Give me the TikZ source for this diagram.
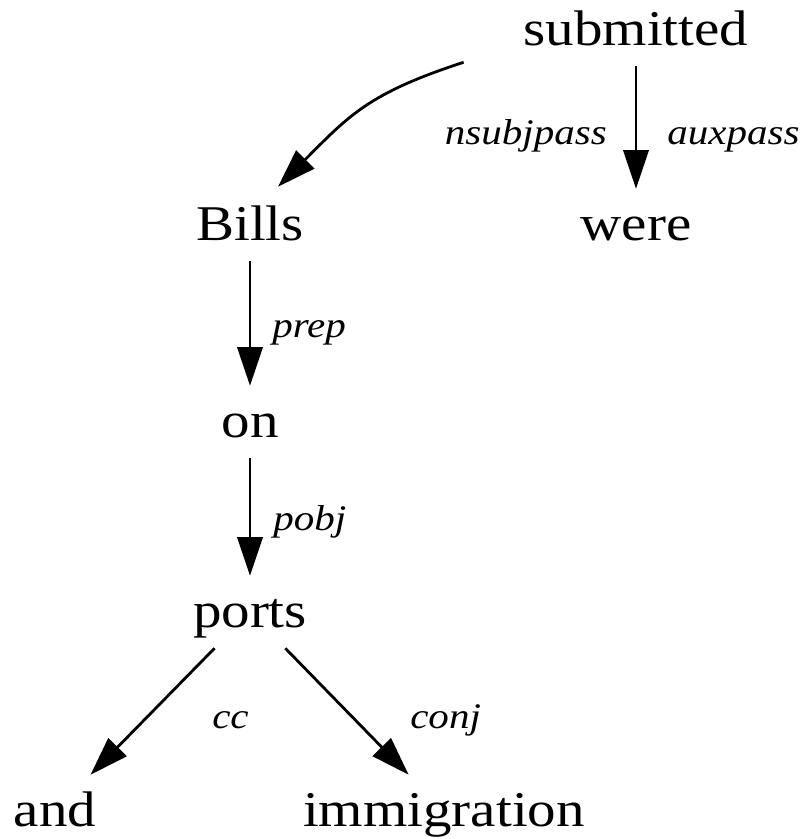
\documentclass[tikz,border=0pt]{standalone}
\usepackage{fontspec}
\setmainfont{Liberation Serif}[FakeStretch=1.14]
\usetikzlibrary{arrows.meta,calc}

\begin{document}
\begin{tikzpicture}[x=0.75pt,y=-0.75pt,
  word/.style={font=\fontsize{37.5}{40}\selectfont, text height=27pt,
    text depth=4.5pt, inner xsep=2pt, inner ysep=11.25pt, anchor=base},
  rel/.style={font=\fontsize{27}{30}\selectfont\itshape, inner sep=0pt},
  dep/.style={draw=black, line width=2.1pt,
    -{Triangle[length=29pt,width=19pt]}}]
\useasboundingbox (0,0) rectangle (806,839);

% words of the sentence
\node[word] (sub)   at (636,45)  {submitted};
\node[word] (bills) at (250,240) {Bills};
\node[word] (were)  at (636,240) {were};
\node[word] (on)    at (250,437) {on};
\node[word] (ports) at (250,627) {ports};
\node[word] (and)   at (55,826)  {and};
\node[word] (immig) at (444,826) {immigration};

% dependency relations
\node[rel, anchor=base east] (lnsubj) at (607,144) {nsubjpass};
\node[rel, anchor=base west] (laux)   at (667,144) {auxpass};
\node[rel, anchor=base west] (lprep)  at (272,337) {prep};
\node[rel, anchor=base west] (lpobj)  at (273,530) {pobj};
\node[rel, anchor=base west] (lcc)    at (212,728) {cc};
\node[rel, anchor=base west] (lconj)  at (410,728) {conj};

% arcs
\draw[dep] ($(sub.south west)+(-57,-4)$) to[out=198,in=45,looseness=1.15]
  ($(bills.north)+(28,-2)$);
\draw[dep] (sub) -- (were);
\draw[dep] (bills) -- (on);
\draw[dep] (on) -- (ports);
\draw[dep] (ports) -- (and);
\draw[dep] (ports) -- (immig);
\end{tikzpicture}
\end{document}
